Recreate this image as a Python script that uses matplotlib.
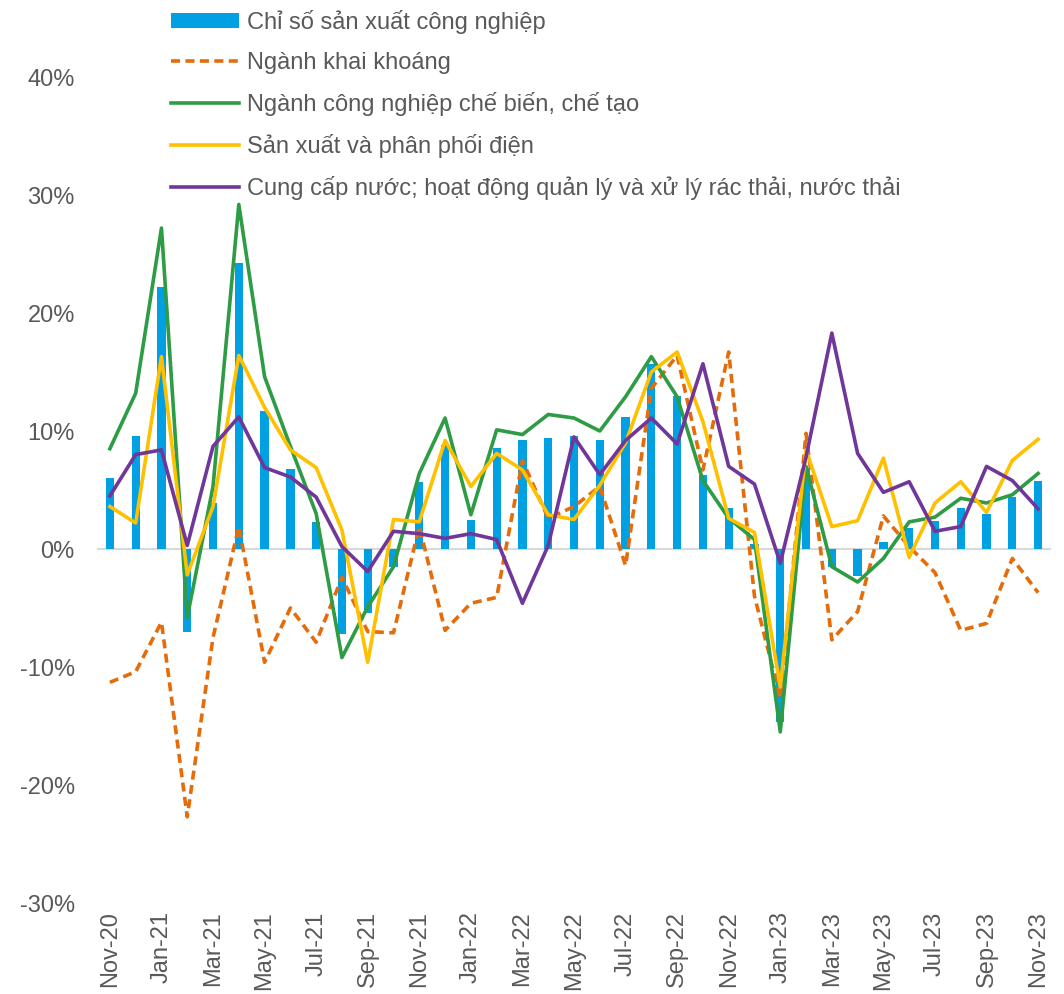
import matplotlib
matplotlib.use("Agg")
import matplotlib.pyplot as plt
from matplotlib.ticker import FuncFormatter, FixedLocator
import numpy as np

plt.rcParams['font.family'] = ['Liberation Sans', 'DejaVu Sans']

months = ["Nov-20", "Dec-20", "Jan-21", "Feb-21", "Mar-21", "Apr-21", "May-21", "Jun-21",
          "Jul-21", "Aug-21", "Sep-21", "Oct-21", "Nov-21", "Dec-21", "Jan-22", "Feb-22",
          "Mar-22", "Apr-22", "May-22", "Jun-22", "Jul-22", "Aug-22", "Sep-22", "Oct-22",
          "Nov-22", "Dec-22", "Jan-23", "Feb-23", "Mar-23", "Apr-23", "May-23", "Jun-23",
          "Jul-23", "Aug-23", "Sep-23", "Oct-23", "Nov-23"]

iip = [6.0, 9.6, 22.2, -7.0, 3.9, 24.2, 11.7, 6.8, 2.3, -7.2, -5.4, -1.5, 5.7, 8.8, 2.5,
       8.6, 9.2, 9.4, 9.6, 9.2, 11.2, 15.7, 13.0, 6.3, 3.5, 0.4, -14.7, 6.9, -1.5, -2.3,
       0.6, 1.8, 2.4, 3.5, 3.0, 4.4, 5.8]
mining = [-11.3, -10.4, -6.2, -22.7, -7.5, 1.9, -9.6, -5.0, -7.9, -2.4, -7.0, -7.1, 1.9,
          -6.9, -4.6, -4.1, 7.5, 2.6, 3.6, 5.3, -1.4, 13.6, 16.4, 6.7, 16.7, -4.0, -12.6,
          9.8, -7.7, -5.3, 2.8, 0.2, -2.0, -6.9, -6.3, -0.8, -3.7]
manufacturing = [8.5, 13.2, 27.2, -5.8, 5.3, 29.2, 14.6, 8.7, 3.0, -9.2, -4.9, -1.5, 6.4,
                 11.1, 2.9, 10.1, 9.7, 11.4, 11.1, 10.0, 12.9, 16.3, 12.9, 5.8, 2.6, 0.8,
                 -15.5, 7.0, -1.5, -2.8, -0.8, 2.3, 2.7, 4.3, 3.9, 4.6, 6.4]
electricity = [3.6, 2.2, 16.3, -2.2, 3.6, 16.4, 12.0, 8.4, 6.9, 1.6, -9.6, 2.5, 2.3, 9.2,
               5.3, 8.1, 6.7, 2.9, 2.5, 5.4, 9.0, 15.0, 16.7, 10.8, 2.6, 1.4, -11.7, 8.4,
               1.9, 2.4, 7.7, -0.7, 3.9, 5.7, 3.1, 7.5, 9.3]
water = [4.5, 8.0, 8.4, 0.3, 8.7, 11.2, 6.9, 6.1, 4.4, 0.2, -1.9, 1.5, 1.3, 0.9, 1.3, 0.8,
         -4.6, 0.3, 9.5, 6.3, 9.2, 11.1, 8.9, 15.7, 7.0, 5.5, -1.2, 7.8, 18.3, 8.1, 4.8,
         5.7, 1.5, 1.9, 7.0, 5.8, 3.4]

labels = ["Chỉ số sản xuất công nghiệp", "Ngành khai khoáng",
          "Ngành công nghiệp chế biến, chế tạo", "Sản xuất và phân phối điện",
          "Cung cấp nước; hoạt động quản lý và xử lý rác thải, nước thải"]

yticks = [-30, -20, -10, 0, 10, 20, 30, 40]

c_bar = '#00A0E2'
c_min = '#E46C0A'
c_man = '#2E9B45'
c_ele = '#FFC000'
c_wat = '#70369A'
txt = '#595959'

fig = plt.figure(figsize=(10.64, 9.94), dpi=100)
ax = fig.add_axes([97/1064, 1 - 903/994, (1051 - 97)/1064, (903 - 77)/994])

x = np.arange(len(months))
lw = 2.6
h_bar = ax.bar(x, iip, width=0.32, color=c_bar, zorder=2, label=labels[0])
ax.axhline(0, color='#D9D9D9', lw=1.5, zorder=1)
h_min, = ax.plot(x, mining, color=c_min, lw=lw, linestyle=(0, (2.5, 1.5)), zorder=3, label=labels[1])
h_man, = ax.plot(x, manufacturing, color=c_man, lw=lw, zorder=4, label=labels[2])
h_ele, = ax.plot(x, electricity, color=c_ele, lw=lw, zorder=5, label=labels[3])
h_wat, = ax.plot(x, water, color=c_wat, lw=lw, zorder=6, label=labels[4])

ax.set_xlim(-0.5, len(months) - 0.5)
ax.set_ylim(-30, 40)
ax.yaxis.set_major_locator(FixedLocator(yticks))
ax.yaxis.set_major_formatter(FuncFormatter(lambda v, p: f"{int(round(v))}%"))
ax.set_xticks(x[::2])
ax.set_xticklabels(months[::2], rotation=90)
ax.tick_params(axis='y', length=0, pad=16, labelsize=17, labelcolor=txt)
ax.tick_params(axis='x', length=0, pad=6, labelsize=17, labelcolor=txt)
for s in ax.spines.values():
    s.set_visible(False)

leg = fig.legend([h_bar, h_min, h_man, h_ele, h_wat], labels, loc='upper left',
                 bbox_to_anchor=(171/1064, 1 - 10/994),
                 frameon=False, fontsize=17, handlelength=2.9, handletextpad=0.3,
                 labelspacing=0.76, borderpad=0, borderaxespad=0, labelcolor=txt,
                 handleheight=0.6)

fig.savefig("out.png", dpi=100)
